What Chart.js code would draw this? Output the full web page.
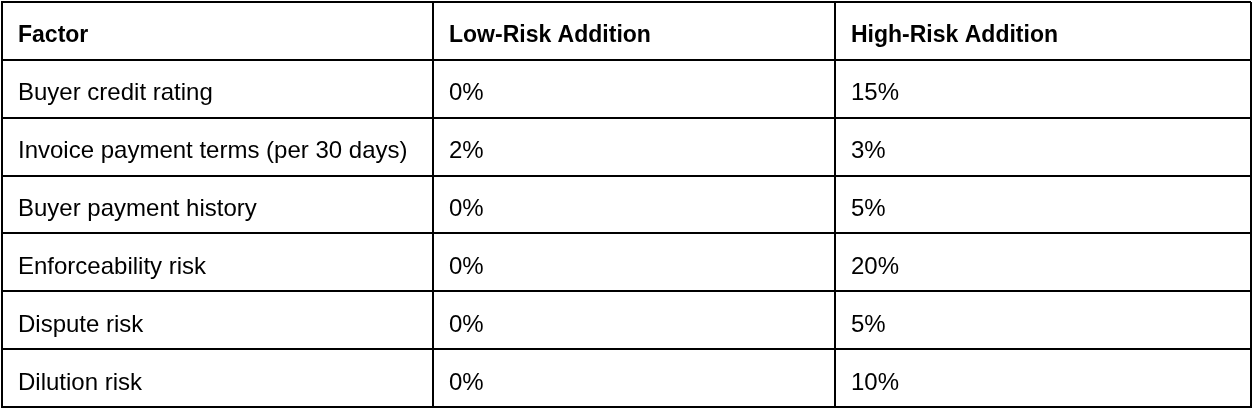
<!DOCTYPE html>
<html>
<head>
<meta charset="utf-8">
<script src="https://cdn.jsdelivr.net/npm/chart.js@4"></script>
<style>
    html, body { margin: 0; padding: 0; background: #fff; }
    #wrap { position: relative; width: 1258px; height: 414px; }
</style>
</head>
<body>
<div id="wrap"><canvas id="table"></canvas></div>
<script>
const headers = ["Factor", "Low-Risk Addition", "High-Risk Addition"];
const factors = [
    "Buyer credit rating",
    "Invoice payment terms (per 30 days)",
    "Buyer payment history",
    "Enforceability risk",
    "Dispute risk",
    "Dilution risk",
];
const lowRisk = [0, 2, 0, 0, 0, 0];
const highRisk = [15, 3, 5, 20, 5, 10];

// column edges in x-scale units (layout only)
const colEdges = [0, 431, 833, 1249];
const rowCount = factors.length + 1;

const textFont = '"Liberation Sans", Arial, Helvetica, sans-serif';

const cellText = {
    id: "cellText",
    afterDraw(chart) {
        const { ctx, scales } = chart;
        const xs = scales.x;
        const ys = scales.y;
        const rows = [headers].concat(factors.map((f, i) => [f, `${lowRisk[i]}%`, `${highRisk[i]}%`]));

        ctx.save();
        ctx.fillStyle = "#000";
        ctx.textBaseline = "alphabetic";
        ctx.textAlign = "left";
        rows.forEach((row, r) => {
            ctx.font = r === 0 ? `bold 23px ${textFont}` : `24px ${textFont}`;
            const y = ys.getPixelForValue(r + 0.5) + 11.5;
            row.forEach((text, c) => {
                const x = xs.getPixelForValue(colEdges[c]) + 16;
                ctx.fillText(text, x, y);
            });
        });
        ctx.restore();
    },
};

new Chart(document.getElementById("table"), {
    type: "scatter",
    data: { datasets: [] },
    options: {
        responsive: true,
        maintainAspectRatio: false,
        animation: false,
        events: [],
        layout: { padding: { left: 2, top: 2, right: 7, bottom: 7 } },
        plugins: {
            legend: { display: false },
            tooltip: { enabled: false },
        },
        scales: {
            x: {
                type: "linear",
                min: colEdges[0],
                max: colEdges[colEdges.length - 1],
                afterBuildTicks: (scale) => {
                    scale.ticks = colEdges.map((v) => ({ value: v }));
                },
                ticks: { display: false },
                grid: { color: "#000", lineWidth: 2, drawTicks: false },
                border: { display: true, color: "#000", width: 2 },
            },
            y: {
                type: "linear",
                reverse: true,
                min: 0,
                max: rowCount,
                afterBuildTicks: (scale) => {
                    scale.ticks = Array.from({ length: rowCount + 1 }, (_, i) => ({ value: i }));
                },
                ticks: { display: false },
                grid: { color: "#000", lineWidth: 2, drawTicks: false },
                border: { display: true, color: "#000", width: 2 },
            },
        },
    },
    plugins: [cellText],
});
</script>
</body>
</html>
